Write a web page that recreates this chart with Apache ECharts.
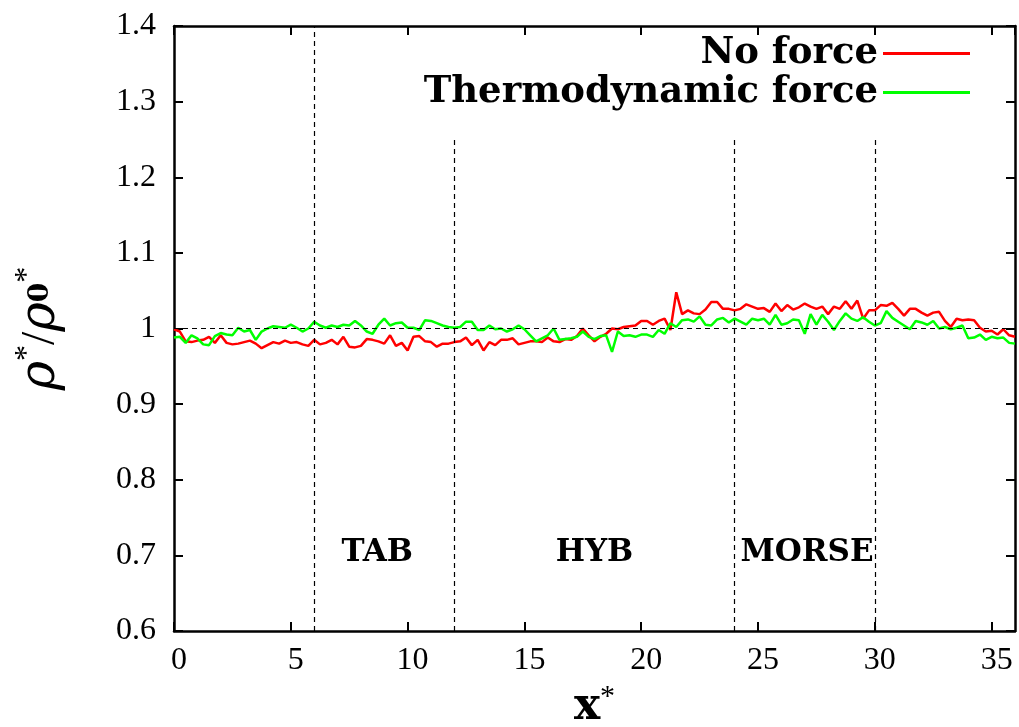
<!DOCTYPE html>
<html>
<head>
<meta charset="utf-8">
<script src="https://cdn.jsdelivr.net/npm/echarts@6/dist/echarts.min.js"></script>
<style>
  html, body { margin: 0; padding: 0; background: #fff; }
</style>
</head>
<body>
<div id="main" style="width: 1019px;height:727px;"></div>
<script>
// x* 坐标 (0 .. 36)
var xs = [
  0, 0.25, 0.5, 0.75, 1, 1.25, 1.5, 1.75, 2, 2.25, 2.5, 2.75, 3, 3.25, 3.5, 3.75,
  4, 4.25, 4.5, 4.75, 5, 5.25, 5.5, 5.75, 6, 6.25, 6.5, 6.75, 7, 7.25, 7.5, 7.75,
  8, 8.25, 8.5, 8.75, 9, 9.25, 9.5, 9.75, 10, 10.25, 10.5, 10.75, 11, 11.25, 11.5, 11.75,
  12, 12.25, 12.5, 12.75, 13, 13.25, 13.5, 13.75, 14, 14.25, 14.5, 14.75, 15, 15.25, 15.5, 15.75,
  16, 16.25, 16.5, 16.75, 17, 17.25, 17.5, 17.75, 18, 18.25, 18.5, 18.75, 19, 19.25, 19.5, 19.75,
  20, 20.25, 20.5, 20.75, 21, 21.25, 21.5, 21.75, 22, 22.25, 22.5, 22.75, 23, 23.25, 23.5, 23.75,
  24, 24.25, 24.5, 24.75, 25, 25.25, 25.5, 25.75, 26, 26.25, 26.5, 26.75, 27, 27.25, 27.5, 27.75,
  28, 28.25, 28.5, 28.75, 29, 29.25, 29.5, 29.75, 30, 30.25, 30.5, 30.75, 31, 31.25, 31.5, 31.75,
  32, 32.25, 32.5, 32.75, 33, 33.25, 33.5, 33.75, 34, 34.25, 34.5, 34.75, 35, 35.25, 35.5, 35.75, 36
];

// No force
var noForce = [
  0.999, 0.996, 0.983, 0.982, 0.984, 0.985, 0.989, 0.981, 0.991, 0.981, 0.979, 0.980, 0.982, 0.984, 0.980, 0.974,
  0.978, 0.982, 0.980, 0.984, 0.981, 0.982, 0.979, 0.977, 0.985, 0.979, 0.981, 0.985, 0.979, 0.989, 0.976, 0.975,
  0.977, 0.986, 0.985, 0.983, 0.980, 0.991, 0.977, 0.981, 0.971, 0.989, 0.990, 0.983, 0.982, 0.976, 0.980, 0.980,
  0.982, 0.983, 0.988, 0.978, 0.985, 0.971, 0.982, 0.978, 0.985, 0.985, 0.987, 0.979, 0.981, 0.983, 0.983, 0.982,
  0.988, 0.983, 0.982, 0.986, 0.985, 0.990, 1.000, 0.991, 0.983, 0.989, 0.993, 1.000, 0.999, 1.002, 1.003, 1.004,
  1.010, 1.010, 1.005, 1.010, 1.013, 0.998, 1.048, 1.019, 1.024, 1.020, 1.019, 1.025, 1.035, 1.035, 1.026, 1.026,
  1.024, 1.026, 1.032, 1.029, 1.026, 1.027, 1.022, 1.033, 1.023, 1.031, 1.025, 1.028, 1.033, 1.029, 1.026, 1.029,
  1.019, 1.029, 1.026, 1.036, 1.026, 1.037, 1.013, 1.024, 1.024, 1.031, 1.030, 1.034, 1.026, 1.017, 1.026, 1.026,
  1.021, 1.017, 1.021, 1.022, 1.010, 1.002, 1.013, 1.011, 1.012, 1.011, 1.001, 0.996, 0.997, 0.992, 0.999, 0.991, 0.989
];

// Thermodynamic force
var thermoForce = [
  0.988, 0.989, 0.981, 0.991, 0.987, 0.979, 0.978, 0.990, 0.994, 0.992, 0.991, 1.001, 0.996, 0.998, 0.985, 0.996,
  1.000, 1.003, 1.002, 1.001, 1.005, 1.001, 0.996, 1.000, 1.009, 1.004, 1.001, 1.004, 1.002, 1.005, 1.004, 1.010,
  1.004, 0.996, 0.993, 1.005, 1.013, 1.004, 1.007, 1.008, 1.001, 1.001, 0.998, 1.011, 1.010, 1.007, 1.004, 1.002,
  1.001, 1.002, 1.009, 1.009, 0.998, 0.998, 1.004, 0.999, 1.000, 0.996, 0.999, 1.004, 0.999, 0.991, 0.983, 0.987,
  0.991, 1.000, 0.985, 0.986, 0.987, 0.989, 0.996, 0.989, 0.986, 0.990, 0.991, 0.969, 0.996, 0.990, 0.991, 0.989,
  0.992, 0.992, 0.989, 0.998, 0.993, 1.007, 1.002, 1.011, 1.012, 1.009, 1.016, 1.005, 1.004, 1.012, 1.014, 1.008,
  1.013, 1.009, 1.005, 1.013, 1.011, 1.013, 1.005, 1.018, 1.005, 1.007, 1.012, 1.011, 0.993, 1.019, 1.005, 1.018,
  1.009, 0.998, 1.010, 1.020, 1.013, 1.010, 1.015, 1.009, 1.004, 1.007, 1.023, 1.014, 1.009, 1.004, 0.999, 1.010,
  1.008, 1.005, 1.010, 1.000, 1.002, 0.999, 1.001, 1.004, 0.987, 0.988, 0.992, 0.985, 0.989, 0.987, 0.988, 0.981, 0.980
];

// 区域分界线 (x*) 及其上端
var boundaryX = [6, 12, 24, 30];
var boundaryTop = [1.4, 1.25, 1.25, 1.25];
var refLevel = 1;

// 区域标签
var regionNames = ['TAB', 'HYB', 'MORSE'];
var regionX = [8.7, 18.0, 27.1];
var regionY = [0.703, 0.703, 0.703];

var xTicks = { min: 0, max: 36, interval: 5 };
var yTicks = { min: 0.6, max: 1.4, interval: 0.1 };

var serif = 'Liberation Serif';
var boldSerif = 'DejaVu Serif';

var myChart = echarts.init(document.getElementById('main'));

var markLines = boundaryX.map(function (x, i) {
  return [{ coord: [x, yTicks.min] }, { coord: [x, boundaryTop[i]] }];
});
markLines.push([{ coord: [xTicks.min, refLevel] }, { coord: [xTicks.max, refLevel] }]);

function axisCommon(extra) {
  var a = {
    type: 'value',
    axisLine: { show: true, onZero: false, lineStyle: { color: '#000', width: 2.5 } },
    axisTick: { show: true, inside: true, length: 9, lineStyle: { color: '#000', width: 2 } },
    splitLine: { show: false }
  };
  for (var k in extra) a[k] = extra[k];
  return a;
}

var option = {
  animation: false,
  backgroundColor: '#fff',
  grid: { left: 174, right: 4, top: 26, bottom: 96, outerBoundsMode: 'none', containLabel: false },
  legend: {
    data: ['No force', 'Thermodynamic force'],
    orient: 'vertical',
    align: 'right',
    right: 44,
    top: 30,
    itemGap: 2,
    itemWidth: 87,
    itemHeight: 3,
    icon: 'rect',
    textStyle: { fontFamily: boldSerif, fontWeight: 'bold', fontSize: 37, color: '#000' }
  },
  xAxis: [
    axisCommon({
      min: xTicks.min, max: xTicks.max, interval: xTicks.interval,
      position: 'bottom',
      name: '{b|x}{s|*}',
      nameLocation: 'middle',
      nameGap: 50,
      nameTextStyle: {
        rich: {
          b: { fontFamily: boldSerif, fontWeight: 'bold', fontSize: 44, color: '#000' },
          s: { fontFamily: serif, fontSize: 30, color: '#000', padding: [0, 0, 22, 0] }
        }
      },
      axisLabel: {
        fontFamily: serif, fontSize: 32, color: '#000', margin: 14,
        showMaxLabel: false,
        padding: [0, 0, 0, 10]
      }
    }),
    axisCommon({
      min: xTicks.min, max: xTicks.max, interval: xTicks.interval,
      position: 'top',
      axisLabel: { show: false }
    })
  ],
  yAxis: [
    axisCommon({
      min: yTicks.min, max: yTicks.max, interval: yTicks.interval,
      position: 'left',
      name: '{r|ρ}{s|*}{n|/}{r|ρ}{z|0}{s|*}',
      nameLocation: 'middle',
      nameRotate: 90,
      nameGap: 104,
      nameTextStyle: {
        rich: {
          r: { fontFamily: 'DejaVu Serif', fontStyle: 'italic', fontSize: 50, color: '#000' },
          n: { fontFamily: serif, fontSize: 48, color: '#000' },
          s: { fontFamily: serif, fontSize: 32, color: '#000', padding: [0, 0, 26, 0] },
          z: { fontFamily: boldSerif, fontWeight: 'bold', fontSize: 28, color: '#000' }
        }
      },
      axisLabel: {
        fontFamily: serif, fontSize: 32, color: '#000', margin: 18,
        formatter: function (v) { return Math.abs(v - 1) < 1e-9 ? '1' : v.toFixed(1); }
      }
    }),
    axisCommon({
      min: yTicks.min, max: yTicks.max, interval: yTicks.interval,
      position: 'right',
      axisLabel: { show: false }
    })
  ],
  series: [
    {
      name: 'No force',
      type: 'line',
      showSymbol: false,
      symbol: 'none',
      color: '#ff0000',
      lineStyle: { color: '#ff0000', width: 2.5 },
      data: xs.map(function (x, i) { return [x, noForce[i]]; }),
      markLine: {
        silent: true,
        symbol: ['none', 'none'],
        label: { show: false },
        lineStyle: { color: '#000', type: [5, 4], width: 1.2 },
        data: markLines
      },
      z: 3
    },
    {
      name: 'Thermodynamic force',
      type: 'line',
      showSymbol: false,
      symbol: 'none',
      color: '#00ff00',
      lineStyle: { color: '#00ff00', width: 2.5 },
      data: xs.map(function (x, i) { return [x, thermoForce[i]]; }),
      z: 4
    },
    {
      name: 'regions',
      type: 'scatter',
      symbolSize: 0,
      silent: true,
      itemStyle: { opacity: 1 },
      label: {
        show: true,
        position: 'inside',
        formatter: function (p) { return p.name; },
        fontFamily: boldSerif, fontWeight: 'bold', fontSize: 31, color: '#000', opacity: 1
      },
      data: regionNames.map(function (n, i) { return { name: n, value: [regionX[i], regionY[i]] }; })
    }
  ]
};
myChart.setOption(option);
</script>
</body>
</html>
